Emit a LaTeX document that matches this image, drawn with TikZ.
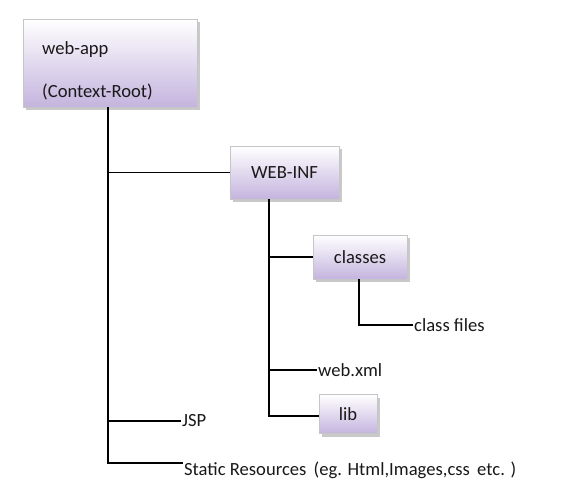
\documentclass[tikz,border=0pt]{standalone}
\usepackage{fontspec}
\setmainfont{Carlito}
\usetikzlibrary{shadows}
\begin{document}
\begin{tikzpicture}[x=1pt,y=-1pt,
  folder/.style={draw=gray!45, line width=0.8pt, top color=white, bottom color={rgb,255:red,196;green,180;blue,222},
    drop shadow={shadow xshift=3pt, shadow yshift=-3pt, fill=gray!60, opacity=0.7},
    font=\fontsize{18.6}{20}\selectfont, text=black!90, inner sep=0pt},
  txt/.style={font=\fontsize{18.6}{20}\selectfont, text=black!90, inner xsep=1pt, inner ysep=0pt},
  conn/.style={line width=1.1pt, black}]
\useasboundingbox (0,0) rectangle (583,500);
\node[folder, minimum width=174pt, minimum height=88pt] (webapp) at (110,63) {};
\node[txt, anchor=west] (webappname) at (41,50) {web-app};
\node[txt, anchor=west] (ctxroot) at (41,92) {(Context-Root)};
\node[folder, minimum width=109pt, minimum height=53pt] (webinf) at (284.5,172.5) {WEB-INF};
\node[folder, minimum width=94pt, minimum height=44pt] (classes) at (360,257) {classes};
\node[folder, minimum width=58pt, minimum height=39pt] (lib) at (348,414) {lib};
\node[txt, anchor=west] (classfiles) at (413,325) {class files};
\node[txt, anchor=west] (webxml) at (317,370) {web.xml};
\node[txt, anchor=west] (jsp) at (181,421) {JSP};
\node[txt, anchor=west] (static) at (183,470) {Static Resources \,(eg. Html,Images,css \,etc. )};
\coordinate (t0) at ([xshift=-2pt]webapp.south);
\coordinate (t1) at ([xshift=-15.5pt]webinf.south);
\coordinate (t2) at ([xshift=-1pt]classes.south);
\draw[conn] (t0) |- (webinf.west);
\draw[conn] (t0) |- (jsp.west);
\draw[conn] (t0) |- ([yshift=7pt]static.west);
\draw[conn] (t1) |- (classes.west);
\draw[conn] (t1) |- (webxml.west);
\draw[conn] (t1) |- ([yshift=-2pt]lib.west);
\draw[conn] (t2) |- (classfiles.west);
\end{tikzpicture}
\end{document}
